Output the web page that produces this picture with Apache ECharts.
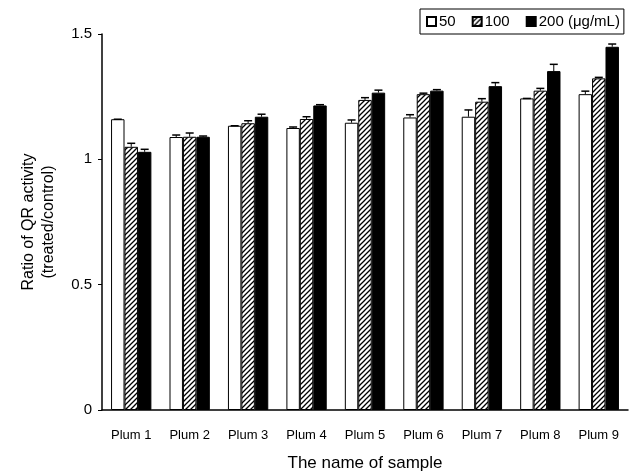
<!DOCTYPE html>
<html>
<head>
<meta charset="utf-8">
<script src="https://cdn.jsdelivr.net/npm/echarts@6/dist/echarts.min.js"></script>
<style>
  html, body { margin: 0; padding: 0; background: #fff; }
  #chart { width: 637px; height: 474px; }
</style>
</head>
<body>
<div id="chart"></div>
<script>
// categories and values (ratio of QR activity, treated/control)
var samples = ['Plum 1', 'Plum 2', 'Plum 3', 'Plum 4', 'Plum 5', 'Plum 6', 'Plum 7', 'Plum 8', 'Plum 9'];
var yTicks = [0, 0.5, 1, 1.5];

var v50  = [1.16, 1.089, 1.134, 1.125, 1.146, 1.167, 1.17, 1.243, 1.26];
var v100 = [1.05, 1.09, 1.144, 1.161, 1.237, 1.26, 1.23, 1.274, 1.323];
var v200 = [1.03, 1.09, 1.17, 1.215, 1.266, 1.274, 1.292, 1.352, 1.449];

// standard deviations (upper error bar only)
var e50  = [0, 0.008, 0, 0.004, 0.011, 0.011, 0.027, 0, 0.012];
var e100 = [0.014, 0.015, 0.01, 0.009, 0.009, 0.004, 0.012, 0.009, 0.004];
var e200 = [0.01, 0.003, 0.01, 0.003, 0.01, 0.004, 0.014, 0.027, 0.011];

var seriesNames = ['50', '100', '200 (\u03bcg/mL)'];

// hatch pattern for the 100 series
function makeHatch() {
  var s = 5;
  var c = document.createElement('canvas');
  c.width = s; c.height = s;
  var ctx = c.getContext('2d');
  ctx.fillStyle = '#fff';
  ctx.fillRect(0, 0, s, s);
  ctx.strokeStyle = '#000';
  ctx.lineWidth = 1.3;
  ctx.beginPath();
  ctx.moveTo(-1, s + 1); ctx.lineTo(s + 1, -1);
  ctx.moveTo(-1, 1); ctx.lineTo(1, -1);
  ctx.moveTo(s - 1, s + 1); ctx.lineTo(s + 1, s - 1);
  ctx.stroke();
  return c;
}

var font = 'Liberation Sans, Arial, sans-serif';
var barPct = 0.23;
var colors = ['#fff', { image: makeHatch(), repeat: 'repeat' }, '#000'];
var vals = [v50, v100, v200];
var errs = [e50, e100, e200];

function errSeries(k) {
  var data = vals[k].map(function (v, i) { return [i, v, +(v + errs[k][i]).toFixed(4)]; });
  return {
    type: 'custom',
    name: seriesNames[k] + '-err',
    silent: true,
    z: 3,
    encode: { x: 0, y: [1, 2] },
    data: data,
    renderItem: function (params, api) {
      var band = api.size([1, 0])[0];
      var bw = band * barPct;
      var base = api.coord([api.value(0), api.value(1)]);
      var top = api.coord([api.value(0), api.value(2)]);
      var x = base[0] + (k - 1) * bw;
      var cap = 4;
      return {
        type: 'group',
        children: [
          { type: 'line', shape: { x1: x, y1: base[1], x2: x, y2: top[1] }, style: { stroke: '#000', lineWidth: 1 } },
          { type: 'line', shape: { x1: x - cap, y1: top[1], x2: x + cap, y2: top[1] }, style: { stroke: '#000', lineWidth: 1.5 } }
        ]
      };
    }
  };
}

var chart = echarts.init(document.getElementById('chart'));

var series = [0, 1, 2].map(function (k) {
  return {
    name: seriesNames[k],
    type: 'bar',
    data: vals[k],
    barWidth: (barPct * 100) + '%',
    barGap: '0%',
    itemStyle: { color: colors[k], borderColor: '#000', borderWidth: 1 }
  };
}).concat([errSeries(0), errSeries(1), errSeries(2)]);

chart.setOption({
  animation: false,
  backgroundColor: '#fff',
  textStyle: { fontFamily: font, color: '#000' },
  legend: {
    data: seriesNames,
    left: 420,
    top: 9,
    orient: 'horizontal',
    icon: 'rect',
    itemWidth: 9,
    itemHeight: 9,
    itemGap: 16,
    padding: [5, 4, 5, 6],
    borderColor: '#000',
    borderWidth: 1,
    textStyle: { fontFamily: font, fontSize: 15, color: '#000', padding: [0, 0, 0, -2] }
  },
  grid: { left: 102, right: 9, top: 34, bottom: 64, outerBoundsMode: 'none' },
  xAxis: {
    type: 'category',
    data: samples,
    name: 'The name of sample',
    nameLocation: 'middle',
    nameGap: 45,
    nameTextStyle: { fontSize: 17, color: '#000', fontFamily: font },
    axisLine: { lineStyle: { color: '#000', width: 1.5 } },
    axisTick: { inside: true, length: 3, lineStyle: { color: '#000' } },
    axisLabel: { margin: 19, fontSize: 13, color: '#000', fontFamily: font }
  },
  yAxis: {
    type: 'value',
    min: yTicks[0],
    max: yTicks[yTicks.length - 1],
    interval: 0.5,
    name: 'Ratio of QR activity\n(treated/control)',
    nameLocation: 'middle',
    nameGap: 43,
    nameTextStyle: { fontSize: 16, color: '#000', fontFamily: font, lineHeight: 20 },
    splitLine: { show: false },
    axisLine: { show: true, lineStyle: { color: '#000', width: 1.5 } },
    axisTick: { show: true, length: 4, lineStyle: { color: '#000' } },
    axisLabel: { margin: 10, fontSize: 15, color: '#000', fontFamily: font,
      formatter: function (v) { return String(v); } }
  },
  series: series
});
</script>
</body>
</html>
